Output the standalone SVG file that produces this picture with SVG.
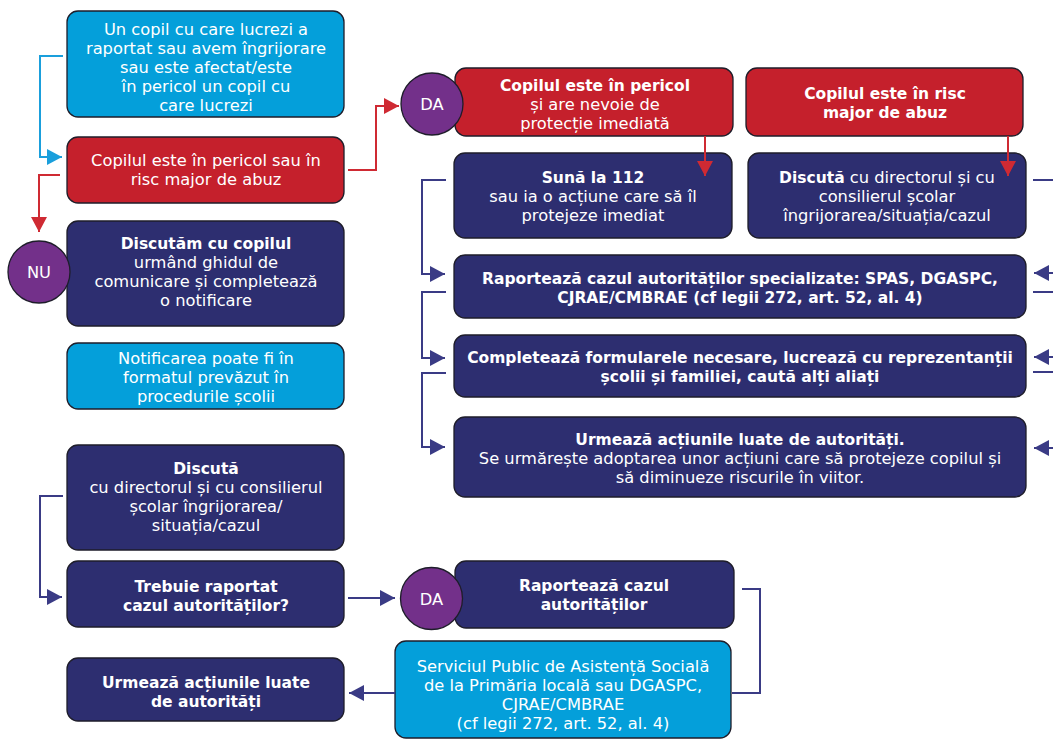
<svg xmlns="http://www.w3.org/2000/svg" width="1053" height="739" viewBox="0 0 1053 739">
<style>
.box{stroke:#1e1d2a;stroke-width:1.3}
.cy{fill:#049fda}
.rd{fill:#c5202c}
.nv{fill:#2d2e70}
.circ{fill:#73308a;stroke:#1e1d2a;stroke-width:1.3}
text{font-family:"DejaVu Sans","Liberation Sans",Arial,sans-serif;font-size:16.3px;fill:#ffffff;text-anchor:middle}
.b{font-weight:700;font-size:15.5px}
.cn{fill:none;stroke-width:2}
.cnN{stroke:#3a3b85}
.cnR{stroke:#cf2a33}
.cnC{stroke:#1a9fdc}
</style>
<defs>
<marker id="aN" markerUnits="userSpaceOnUse" markerWidth="16" markerHeight="16" refX="15" refY="8" orient="auto"><path d="M0,0 L15,8 L0,16 z" fill="#3a3b85"/></marker>
<marker id="aR" markerUnits="userSpaceOnUse" markerWidth="16" markerHeight="16" refX="15" refY="8" orient="auto"><path d="M0,0 L15,8 L0,16 z" fill="#cf2a33"/></marker>
<marker id="aC" markerUnits="userSpaceOnUse" markerWidth="16" markerHeight="16" refX="15" refY="8" orient="auto"><path d="M0,0 L15,8 L0,16 z" fill="#1a9fdc"/></marker>
</defs>

<g id="n1">
<rect class="box cy" x="67" y="11" width="277" height="106" rx="11"/>
<text x="206" y="35">Un copil cu care lucrezi a</text>
<text x="206" y="54">raportat sau avem îngrijorare</text>
<text x="206" y="73">sau este afectat/este</text>
<text x="206" y="92">în pericol un copil cu</text>
<text x="206" y="111">care lucrezi</text>
</g>

<g id="n2">
<rect class="box rd" x="67" y="137" width="277" height="66" rx="11"/>
<text x="206" y="166">Copilul este în pericol sau în</text>
<text x="206" y="185">risc major de abuz</text>
</g>

<g id="n3">
<rect class="box nv" x="67" y="221" width="277" height="105" rx="11"/>
<text class="b" x="206" y="249">Discutăm cu copilul</text>
<text x="206" y="268">urmând ghidul de</text>
<text x="206" y="287">comunicare și completează</text>
<text x="206" y="306">o notificare</text>
</g>

<g id="nu">
<circle class="circ" cx="39" cy="272" r="31"/>
<text x="39" y="278">NU</text>
</g>

<g id="n4">
<rect class="box cy" x="67" y="343" width="277" height="66" rx="11"/>
<text x="206" y="364">Notificarea poate fi în</text>
<text x="206" y="383">formatul prevăzut în</text>
<text x="206" y="402">procedurile școlii</text>
</g>

<g id="n5">
<rect class="box nv" x="67" y="445" width="277" height="105" rx="11"/>
<text class="b" x="206" y="474">Discută</text>
<text x="206" y="493">cu directorul și cu consilierul</text>
<text x="206" y="512">școlar îngrijorarea/</text>
<text x="206" y="531">situația/cazul</text>
</g>

<g id="n6">
<rect class="box nv" x="67" y="561" width="277" height="66" rx="11"/>
<text class="b" x="206" y="592">Trebuie raportat</text>
<text class="b" x="206" y="611">cazul autorităților?</text>
</g>

<g id="n7">
<rect class="box nv" x="67" y="658" width="277" height="63" rx="11"/>
<text class="b" x="206" y="688">Urmează acțiunile luate</text>
<text class="b" x="206" y="707">de autorități</text>
</g>

<g id="n8">
<rect class="box rd" x="455" y="68" width="278" height="68" rx="11"/>
<text class="b" x="595" y="91">Copilul este în pericol</text>
<text x="595" y="110">și are nevoie de</text>
<text x="595" y="129">protecție imediată</text>
</g>

<g id="da1">
<circle class="circ" cx="432" cy="104" r="31"/>
<text x="432" y="110">DA</text>
</g>

<g id="n9">
<rect class="box rd" x="746" y="68" width="277" height="68" rx="11"/>
<text class="b" x="885" y="99">Copilul este în risc</text>
<text class="b" x="885" y="118">major de abuz</text>
</g>

<g id="n10">
<rect class="box nv" x="454" y="153" width="278" height="85" rx="11"/>
<text class="b" x="593" y="183">Sună la 112</text>
<text x="593" y="202">sau ia o acțiune care să îl</text>
<text x="593" y="221">protejeze imediat</text>
</g>

<g id="n11">
<rect class="box nv" x="748" y="153" width="278" height="85" rx="11"/>
<text x="887" y="183"><tspan class="b">Discută</tspan> cu directorul și cu</text>
<text x="887" y="202">consilierul școlar</text>
<text x="887" y="221">îngrijorarea/situația/cazul</text>
</g>

<g id="n12">
<rect class="box nv" x="454" y="255" width="572" height="63" rx="11"/>
<text class="b" x="740" y="284">Raportează cazul autorităților specializate: SPAS, DGASPC,</text>
<text class="b" x="740" y="303">CJRAE/CMBRAE (cf legii 272, art. 52, al. 4)</text>
</g>

<g id="n13">
<rect class="box nv" x="454" y="335" width="572" height="62" rx="11"/>
<text class="b" x="740" y="363">Completează formularele necesare, lucrează cu reprezentanții</text>
<text class="b" x="740" y="382">școlii și familiei, caută alți aliați</text>
</g>

<g id="n14">
<rect class="box nv" x="454" y="417" width="572" height="80" rx="11"/>
<text class="b" x="740" y="445">Urmează acțiunile luate de autorități.</text>
<text x="740" y="464">Se urmărește adoptarea unor acțiuni care să protejeze copilul și</text>
<text x="740" y="483">să diminueze riscurile în viitor.</text>
</g>

<g id="n15">
<rect class="box nv" x="455" y="561" width="279" height="67" rx="11"/>
<text class="b" x="594" y="591">Raportează cazul</text>
<text class="b" x="594" y="610">autorităților</text>
</g>

<g id="da2">
<circle class="circ" cx="431.5" cy="598.5" r="31"/>
<text x="431.5" y="604.5">DA</text>
</g>

<g id="n16">
<rect class="box cy" x="395" y="641" width="336" height="97" rx="11"/>
<text x="563" y="672">Serviciul Public de Asistență Socială</text>
<text x="563" y="691">de la Primăria locală sau DGASPC,</text>
<text x="563" y="710">CJRAE/CMBRAE</text>
<text x="563" y="729">(cf legii 272, art. 52, al. 4)</text>
</g>

<g id="connectors">
<path class="cn cnC" d="M63,56 H40 V157 H62" marker-end="url(#aC)"/>
<path class="cn cnR" d="M60,175 H39 V232" marker-end="url(#aR)"/>
<path class="cn cnR" d="M348,170 H376 V106 H399" marker-end="url(#aR)"/>
<path class="cn cnR" d="M705,136 V176" marker-end="url(#aR)"/>
<path class="cn cnR" d="M1008,136 V176" marker-end="url(#aR)"/>
<path class="cn cnN" d="M446,180 H422 V274 H445" marker-end="url(#aN)"/>
<path class="cn cnN" d="M446,292 H422 V358 H445" marker-end="url(#aN)"/>
<path class="cn cnN" d="M446,373 H422 V447 H445" marker-end="url(#aN)"/>
<path class="cn cnN" d="M1033,180 H1065 V273 H1034" marker-end="url(#aN)"/>
<path class="cn cnN" d="M1033,292 H1065 V357 H1034" marker-end="url(#aN)"/>
<path class="cn cnN" d="M1033,372 H1065 V448 H1034" marker-end="url(#aN)"/>
<path class="cn cnN" d="M63,496 H40 V597 H62" marker-end="url(#aN)"/>
<path class="cn cnN" d="M348,598 H395" marker-end="url(#aN)"/>
<path class="cn cnN" d="M742,589 H760 V693 H732"/>
<path class="cn cnN" d="M395,693 H349" marker-end="url(#aN)"/>
</g>
</svg>
